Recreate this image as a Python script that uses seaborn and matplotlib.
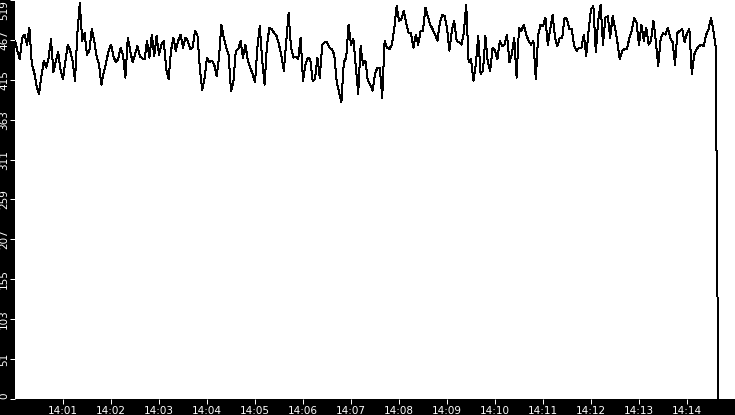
import matplotlib
matplotlib.use("Agg")
import matplotlib.dates as mdates
import matplotlib.pyplot as plt
import pandas as pd
import seaborn as sns

# ----------------------------------------------------------------------------
# Data (one value every 3 seconds from 14:00:00)
# ----------------------------------------------------------------------------
START = "2024-01-01 14:00:00"
END = "2024-01-01 14:15:00"
STEP = "3s"

# 14:00:00 - 14:02:09
part_1 = [466, 453, 442, 470, 474, 461, 483, 435, 425, 407, 397, 420, 440, 431,
          444, 468, 425, 440, 451, 427, 416, 440, 461, 453, 440, 414, 476, 515,
          466, 476, 448, 453, 481, 466, 446, 435, 409, 425, 438, 453, 461, 446,
          438, 442]
# 14:02:12 - 14:04:18
part_2 = [457, 448, 418, 470, 453, 438, 448, 459, 446, 443, 442, 466, 444, 474,
          446, 472, 448, 461, 466, 429, 416, 453, 470, 453, 466, 474, 457, 470,
          466, 455, 457, 479, 474, 431, 402, 418, 444, 438, 440, 435, 420, 444,
          487]
# 14:04:21 - 14:06:30
part_3 = [470, 457, 448, 401, 412, 453, 455, 466, 444, 461, 440, 431, 423, 412,
          457, 485, 440, 409, 461, 483, 481, 476, 472, 461, 446, 427, 464, 502,
          457, 444, 445, 442, 470, 414, 435, 444, 442, 414, 416, 444, 418, 461,
          464, 464]
# 14:06:33 - 14:08:39
part_4 = [457, 455, 448, 414, 399, 386, 438, 444, 487, 461, 468, 433, 397, 459,
          435, 440, 414, 409, 401, 423, 431, 431, 392, 466, 457, 455, 461, 481,
          511, 492, 494, 505, 489, 476, 476, 457, 474, 461, 479, 479, 509, 498,
          487]
# 14:08:42 - 14:10:48
part_5 = [481, 474, 466, 489, 500, 498, 483, 453, 479, 492, 466, 464, 461, 476,
          513, 438, 442, 414, 435, 472, 423, 427, 472, 438, 427, 457, 453, 442,
          466, 459, 461, 474, 438, 448, 470, 418, 483, 479, 487, 474, 466, 461,
          466]
# 14:10:51 - 14:13:00
part_6 = [416, 474, 487, 485, 496, 461, 481, 500, 470, 459, 470, 470, 496, 494,
          481, 481, 459, 453, 457, 457, 474, 446, 479, 507, 511, 451, 492, 513,
          461, 496, 498, 470, 498, 483, 464, 442, 453, 455, 455, 470, 479, 496,
          489, 461]
# 14:13:03 - 14:14:36
part_7 = [487, 466, 483, 461, 466, 492, 466, 433, 468, 476, 474, 483, 470, 464,
          435, 476, 479, 481, 464, 476, 481, 423, 448, 455, 459, 461, 459, 474,
          481, 496, 479, 457]
# 14:14:39 - series stops
final_drop = [0]

y_ticks = [0, 51.9, 103.8, 155.7, 207.6, 259.5, 311.4, 363.3, 415.2, 467.1, 519]
y_tick_labels = ["0", "51", "103", "155", "207", "259", "311", "363", "415",
                 "467", "519"]
x_ticks = pd.date_range("2024-01-01 14:01", "2024-01-01 14:14", freq="1min")

values = part_1 + part_2 + part_3 + part_4 + part_5 + part_6 + part_7 + final_drop
df = pd.DataFrame({
    "time": pd.date_range(START, periods=len(values), freq=STEP),
    "value": values,
})

# ----------------------------------------------------------------------------
# Plot
# ----------------------------------------------------------------------------
sns.set_theme(style="white")
plt.rcParams["font.family"] = ["DejaVu Sans"]

fig = plt.figure(figsize=(7.35, 4.15), dpi=100, facecolor="black")
ax = fig.add_axes([15 / 735, 16 / 415, 720 / 735, 399 / 415])
ax.set_facecolor("white")

sns.lineplot(data=df, x="time", y="value", ax=ax, color="black",
             linewidth=0.72, estimator=None, errorbar=None, antialiased=False)

ax.set_xlim(pd.Timestamp(START), pd.Timestamp(END))
ax.set_ylim(0, 519)
ax.set_xlabel("")
ax.set_ylabel("")

ax.set_xticks(x_ticks)
ax.xaxis.set_major_formatter(mdates.DateFormatter("%H:%M"))
ax.set_yticks(y_ticks)
ax.set_yticklabels(y_tick_labels)

for spine in ax.spines.values():
    spine.set_visible(False)

ax.tick_params(bottom=True, left=True, direction="out", colors="white",
               length=3.6, width=0.72, labelsize=7.5)
ax.tick_params(axis="x", pad=1.5)
ax.tick_params(axis="y", pad=0.5, labelrotation=90)
for label in ax.get_yticklabels():
    label.set_verticalalignment("center")
ax.get_yticklabels()[-1].set_verticalalignment("top")
ax.get_yticklabels()[0].set_verticalalignment("bottom")

fig.savefig("out.png", dpi=100, facecolor="black")
